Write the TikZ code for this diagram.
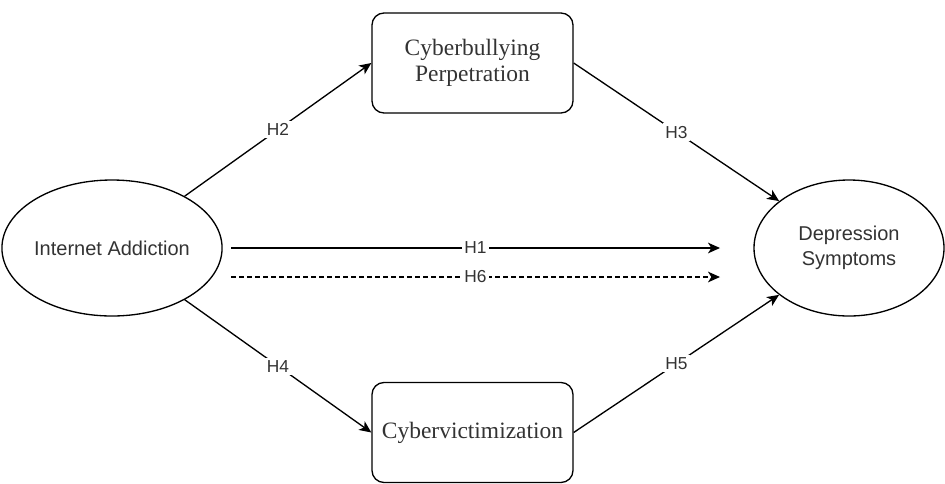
\documentclass[tikz,border=0pt]{standalone}
\usepackage{fontspec}
\setmainfont{Liberation Serif}
\setsansfont{Liberation Sans}
\usetikzlibrary{arrows.meta,shapes.geometric}

\tikzset{
	construct/.style={ellipse, draw, line width=1pt, minimum width=151.5pt, minimum height=102pt, inner sep=0pt, align=center, font=\sffamily\fontsize{15}{18.75}\selectfont, text=black!80},
	varbox/.style={rectangle, rounded corners=9pt, draw, line width=1pt, minimum width=150.75pt, minimum height=75pt, align=center, font=\fontsize{17.6}{20}\selectfont, text=black!80},
	hyp/.style={line width=1pt, -{Stealth[length=9pt, width=8pt, inset=2.5pt]}},
	hlabel/.style={fill=white, inner sep=2pt, font=\sffamily\fontsize{13}{15}\selectfont, text=black!80}
}

\begin{document}
\begin{tikzpicture}[x=0.75pt, y=-0.75pt]
		\useasboundingbox (0, 0) rectangle (945, 483);
		%%%%% START %%%%%
		
		\node[construct] (addiction) at (112, 248) {Internet Addiction};
		\node[construct, minimum width=142.5pt] (depression) at (849, 248) {Depression\\Symptoms};
		
		\node[varbox] (perpetration) at (472.5, 63) {Cyberbullying\\Perpetration};
		\node[varbox] (victimization) at (472.5, 432.5) {Cybervictimization};
		
		\coordinate (h1from) at (231, 248);
		\coordinate (h1to) at (720, 248);
		\coordinate (h6from) at (231, 277);
		\coordinate (h6to) at (720, 277);
		
		\draw[hyp] (addiction) -- node[hlabel] {H2} (perpetration.west);
		\draw[hyp] (perpetration.east) -- node[hlabel] {H3} (depression);
		\draw[hyp] (addiction) -- node[hlabel] {H4} (victimization.west);
		\draw[hyp] (victimization.east) -- node[hlabel] {H5} (depression);
		
		\draw[hyp] (h1from) -- node[hlabel] {H1} (h1to);
		\draw[hyp, dash pattern=on 3.75pt off 2.25pt] (h6from) -- node[hlabel] {H6} (h6to);
		
		%%%%% END %%%%%
\end{tikzpicture}
\end{document}
